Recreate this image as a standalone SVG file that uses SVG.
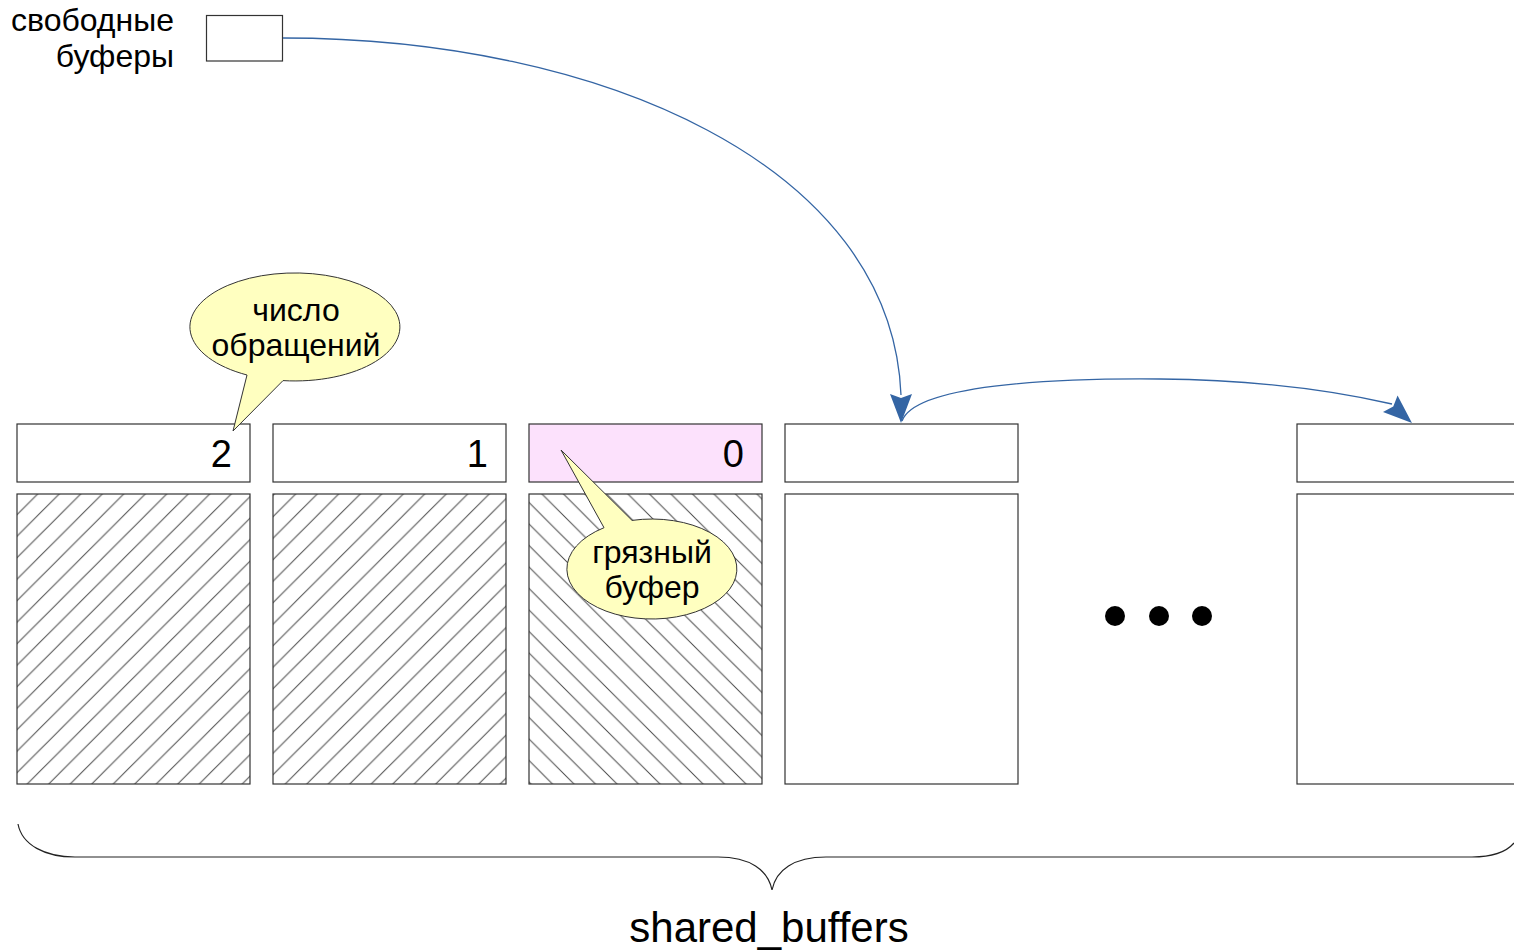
<svg xmlns="http://www.w3.org/2000/svg" xmlns:xlink="http://www.w3.org/1999/xlink" width="1514" height="952" viewBox="0 0 1514 952">
<style>
text{font-family:"Liberation Sans",Arial,sans-serif;fill:#000}
.box{fill:#fff;stroke:#333;stroke-width:1.2}
.lbl{font-size:32px}
.num{font-size:38px;text-anchor:end}
.call{fill:#ffffc0;stroke:#333;stroke-width:1}
.ct{font-size:32px;text-anchor:middle}
.conn{fill:none;stroke:#3465a4;stroke-width:1.3}
.ah{fill:#3465a4}
.hatch{stroke:#4a4a4a;stroke-width:1}
</style>
<defs>
<pattern id="hatchF" patternUnits="userSpaceOnUse" x="15.7" y="0" width="21.5" height="21.5">
<path class="hatch" d="M-2,2 L2,-2 M0,21.5 L21.5,0 M19.5,23.5 L23.5,19.5"/>
</pattern>
<pattern id="hatchB" patternUnits="userSpaceOnUse" x="5" y="0" width="21.5" height="21.5">
<path class="hatch" d="M-2,19.5 L2,23.5 M0,0 L21.5,21.5 M19.5,-2 L23.5,2"/>
</pattern>
<path id="ah" d="M0,0 L-29,-11 L-25,0 L-29,11 Z"/>
</defs>

<g id="free">
<text class="lbl" x="174" y="31" text-anchor="end">свободные</text>
<text class="lbl" x="174" y="67" text-anchor="end">буферы</text>
<rect class="box" x="206.5" y="15.5" width="76" height="45.5"/>
</g>

<g id="buf1">
<rect class="box" x="17" y="424" width="233" height="58"/>
<text class="num" x="232" y="467">2</text>
<rect class="box" x="17" y="494" width="233" height="290" style="fill:url(#hatchF)"/>
</g>
<g id="buf2">
<rect class="box" x="273" y="424" width="233" height="58"/>
<text class="num" x="488" y="467">1</text>
<rect class="box" x="273" y="494" width="233" height="290" style="fill:url(#hatchF)"/>
</g>
<g id="buf3">
<rect class="box" x="529" y="424" width="233" height="58" style="fill:#fce1fc"/>
<text class="num" x="744" y="467">0</text>
<rect class="box" x="529" y="494" width="233" height="290" style="fill:url(#hatchB)"/>
</g>
<g id="buf4">
<rect class="box" x="785" y="424" width="233" height="58"/>
<rect class="box" x="785" y="494" width="233" height="290"/>
</g>
<g id="bufN">
<rect class="box" x="1297" y="424" width="240" height="58"/>
<rect class="box" x="1297" y="494" width="240" height="290"/>
</g>

<g id="ellipsis">
<circle cx="1115" cy="616" r="10" fill="#000"/>
<circle cx="1159" cy="616" r="10" fill="#000"/>
<circle cx="1202" cy="616" r="10" fill="#000"/>
</g>

<g id="callout-refcount">
<path class="call" d="M283,380.6 A105,54 0 1 0 247,375 L233,431 Z"/>
<text class="ct" x="296" y="321">число</text>
<text class="ct" x="296" y="356">обращений</text>
</g>

<g id="callout-dirty">
<path class="call" d="M632,520.4 A85,50 0 1 1 604,527.7 L561,450 Z"/>
<text class="ct" x="652" y="563">грязный</text>
<text class="ct" x="652" y="598">буфер</text>
</g>

<g id="connectors">
<path class="conn" d="M283,38 C600,38 892,165 901,395"/>
<use href="#ah" class="ah" transform="translate(901,423) rotate(90)"/>
<path class="conn" d="M902,421 C915,385 1050,378 1160,379 C1260,380 1340,392 1392,404"/>
<use href="#ah" class="ah" transform="translate(1412,423) rotate(41.5)"/>
</g>

<g id="brace">
<path fill="none" stroke="#222" stroke-width="1.2" d="M18,824 C22,845 45,857 75,857 L718,857 C750,857 768,870 772,890 C776,870 794,857 826,857 L1472,857 C1495,857 1508,850 1514,843"/>
<text x="769" y="942" font-size="42" text-anchor="middle">shared_buffers</text>
</g>
</svg>
